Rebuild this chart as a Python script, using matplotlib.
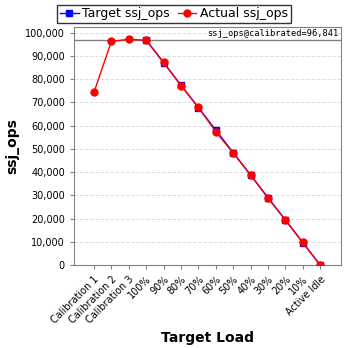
import matplotlib.pyplot as plt
from matplotlib.ticker import FuncFormatter

categories = ["Calibration 1", "Calibration 2", "Calibration 3", "100%", "90%", "80%",
              "70%", "60%", "50%", "40%", "30%", "20%", "10%", "Active Idle"]
target_ops = [None, None, None, 96841, 87157, 77473, 67789, 58105, 48420, 38736,
              29052, 19368, 9684, 0]
actual_ops = [74400, 96300, 97200, 96800, 87300, 77300, 67900, 57400, 48200, 38900,
              28800, 19500, 9700, 0]
calibrated = 96841

fig = plt.figure(figsize=(3.48, 3.48), dpi=100)
ax = fig.add_axes([74 / 348, 1 - 265 / 348, 267 / 348, 238 / 348])

x = list(range(len(categories)))
tx = [i for i, v in zip(x, target_ops) if v is not None]
tv = [v for v in target_ops if v is not None]

ax.plot(tx, tv, color="blue", marker="s", markersize=5, linewidth=1, label="Target ssj_ops", zorder=3)
ax.plot(x, actual_ops, color="red", marker="o", markersize=5, linewidth=1, label="Actual ssj_ops", zorder=4)
ax.axhline(calibrated, color="#808080", linewidth=1, zorder=2)
ax.text(0.99, calibrated + 900, "ssj_ops@calibrated=96,841", transform=ax.get_yaxis_transform(),
        ha="right", va="bottom", fontsize=6.3, family="DejaVu Sans Mono")

ax.set_xlim(-1.15, 14.2)
ax.set_ylim(0, 102500)
ax.set_yticks(range(0, 100001, 10000))
ax.yaxis.set_major_formatter(FuncFormatter(lambda v, p: f"{int(v):,}"))
ax.set_xticks(x)
ax.set_xticklabels(categories, rotation=45, ha="right", rotation_mode="anchor")
ax.tick_params(labelsize=7, length=3, color="#808080")
ax.grid(axis="y", linestyle="--", color="#dddddd", linewidth=0.7)
for s in ax.spines.values():
    s.set_color("#808080")

ax.set_xlabel("Target Load", fontsize=10, fontweight="bold")
ax.set_ylabel("ssj_ops", fontsize=10, fontweight="bold")

fig.legend(loc="upper center", bbox_to_anchor=(0.5, 1.0), ncol=2, fontsize=9,
           frameon=True, fancybox=False, edgecolor="black", handlelength=1.5,
           handletextpad=0.3, columnspacing=0.6, borderpad=0.2, borderaxespad=0.4)

fig.savefig("out.png", dpi=100)
